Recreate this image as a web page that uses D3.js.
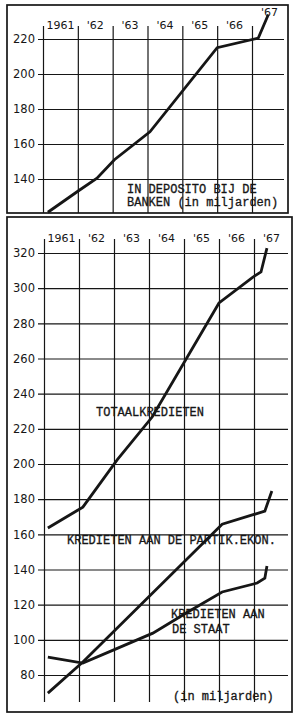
<!DOCTYPE html>
<html>
<head>
<meta charset="utf-8">
<script src="https://cdn.jsdelivr.net/npm/d3@7"></script>
<style>
  html, body { margin: 0; padding: 0; background: #fff; }
  svg { display: block; }
</style>
</head>
<body>
<svg id="chart" width="304" height="718"></svg>
<script>
// ---------- DATA ----------
const years = [1961, 1962, 1963, 1964, 1965, 1966, 1967];
const yearLabels = ["1961", "'62", "'63", "'64", "'65", "'66", "'67"];

const depositTicks = [140, 160, 180, 200, 220];
const creditTicks = [80, 100, 120, 140, 160, 180, 200, 220, 240, 260, 280, 300, 320];

// In deposito bij de banken (miljarden)
const depositYears  = [1961.14, 1962.0, 1962.55, 1963.05, 1964.07, 1966.0, 1967.18, 1967.47];
const depositValues = [121, 133, 140.5, 151, 167, 215, 220.5, 234];

// Totaalkredieten
const totalYears  = [1961.11, 1962.11, 1963.09, 1964.09, 1966.0, 1966.97, 1967.2, 1967.37];
const totalValues = [163.6, 175.5, 202.3, 226.7, 291.6, 306.3, 309.2, 322.8];

// Kredieten aan de partik. ekon.
const privateYears  = [1961.11, 1962.11, 1966.09, 1967.31, 1967.51];
const privateValues = [69.7, 87.4, 165.8, 173.2, 184.6];

// Kredieten aan de staat
const stateYears  = [1961.11, 1962.11, 1963.11, 1964.11, 1965.11, 1966.09, 1967.09, 1967.31, 1967.37];
const stateValues = [90.2, 86.8, 95.3, 103.8, 115.8, 127.2, 132.3, 135.1, 142];

// ---------- DRAWING ----------
const svg = d3.select("#chart");
const INK = "#161616";
const SANS = "'DejaVu Sans', sans-serif";
const MONO = "'Liberation Mono', 'DejaVu Sans Mono', monospace";

function zip(xs, ys) { return xs.map((x, i) => [x, ys[i]]); }

function panel(cfg) {
  const g = svg.append("g");
  const x = d3.scaleLinear().domain([1961, 1967]).range(cfg.xRange);
  const y = d3.scaleLinear().domain(cfg.yDomain).range(cfg.yRange);

  // frame
  g.append("rect")
    .attr("x", cfg.frame[0]).attr("y", cfg.frame[1])
    .attr("width", cfg.frame[2]).attr("height", cfg.frame[3])
    .attr("fill", "none").attr("stroke", INK).attr("stroke-width", 1.7);

  // horizontal grid + left tick labels via axis
  const yAxis = d3.axisLeft(y).tickValues(cfg.ticks)
    .tickSize(-(cfg.gridRight - cfg.gridLeft)).tickPadding(3)
    .tickFormat(d3.format("d"));
  const ya = g.append("g").attr("transform", `translate(${cfg.gridRight},0)`).call(yAxis);
  ya.select(".domain").remove();
  ya.selectAll(".tick line").attr("stroke", INK).attr("stroke-width", 1.2)
    .attr("x1", 0).attr("x2", -(cfg.gridRight - cfg.gridLeft));
  ya.selectAll(".tick text")
    .attr("x", -(cfg.gridRight - cfg.labelRight))
    .attr("fill", INK).style("font-family", SANS).style("font-size", "11.5px")
    .attr("text-anchor", "end");

  // vertical grid lines via axis
  const xAxis = d3.axisBottom(x).tickValues(years)
    .tickSize(cfg.vBottom - cfg.vTop).tickFormat("");
  const xa = g.append("g").attr("transform", `translate(0,${cfg.vTop})`).call(xAxis);
  xa.select(".domain").remove();
  xa.selectAll(".tick line").attr("stroke", INK).attr("stroke-width", 1.2);

  // year labels, centred in each year interval
  g.selectAll("text.year").data(years).enter().append("text")
    .attr("class", "year")
    .attr("x", d => x(d + 0.5))
    .attr("y", (d, i) => (cfg.raiseLast && i === years.length - 1) ? cfg.labelY - 13 : cfg.labelY)
    .attr("text-anchor", "middle")
    .attr("fill", INK).style("font-family", SANS).style("font-size", "11px")
    .text((d, i) => yearLabels[i]);

  // annotations (typewriter)
  cfg.notes.forEach(n => {
    g.append("text").attr("x", n[0]).attr("y", n[1])
      .attr("fill", INK).attr("stroke", INK).attr("stroke-width", 0.3)
      .style("font-family", MONO).style("font-size", "12px")
      .attr("xml:space", "preserve").text(n[2]);
  });

  // data lines
  const line = d3.line().x(d => x(d[0])).y(d => y(d[1]));
  cfg.series.forEach(s => {
    g.append("path").datum(s)
      .attr("d", line).attr("fill", "none")
      .attr("stroke", INK).attr("stroke-width", 2.8)
      .attr("stroke-linejoin", "miter").attr("stroke-linecap", "butt");
  });
}

panel({
  frame: [7, 5, 281, 208],
  xRange: [43, 252],
  yDomain: [120, 220],
  yRange: [214, 39],
  ticks: depositTicks,
  gridLeft: 38, gridRight: 284, labelRight: 35,
  vTop: 26, vBottom: 213,
  labelY: 29,
  raiseLast: true,
  notes: [[127, 193, "IN DEPOSITO BIJ DE"], [127, 206, "BANKEN (in miljarden)"]],
  series: [zip(depositYears, depositValues)]
});

panel({
  frame: [7, 217, 285, 495],
  xRange: [44, 254],
  yDomain: [80, 320],
  yRange: [675, 253],
  ticks: creditTicks,
  gridLeft: 38, gridRight: 288, labelRight: 35,
  vTop: 239, vBottom: 702,
  labelY: 242,
  raiseLast: false,
  notes: [[96, 416, "TOTAALKREDIETEN"],
          [67, 544, "KREDIETEN AAN DE PARTIK.EKON."],
          [171, 618, "KREDIETEN AAN"],
          [172, 633, "DE STAAT"],
          [173, 700, "(in miljarden)"]],
  series: [zip(totalYears, totalValues), zip(privateYears, privateValues), zip(stateYears, stateValues)]
});
</script>
</body>
</html>
